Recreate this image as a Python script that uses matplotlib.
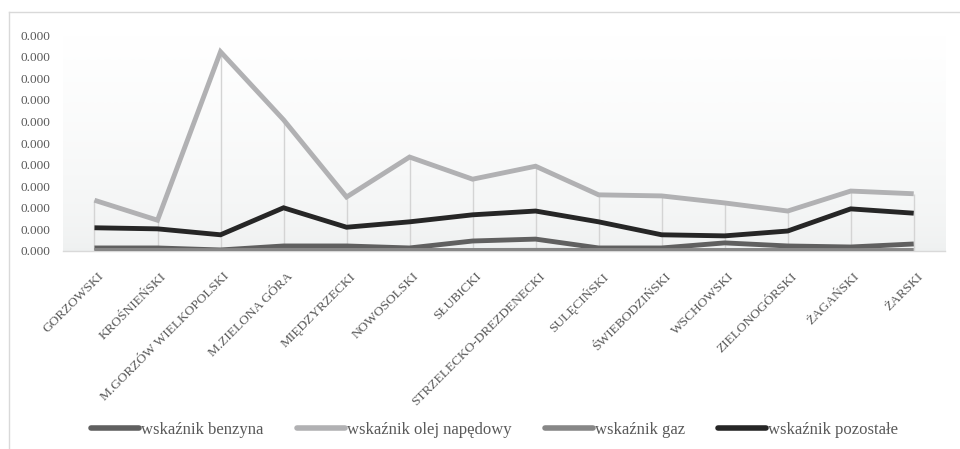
import numpy as np
import matplotlib
matplotlib.use("Agg")
import matplotlib.pyplot as plt
from matplotlib.lines import Line2D
from matplotlib.ticker import MultipleLocator, FormatStrFormatter
from matplotlib.transforms import ScaledTranslation

plt.rcParams["font.family"] = ["Liberation Serif", "DejaVu Serif"]

powiaty = ["GORZOWSKI", "KROŚNIEŃSKI", "M.GORZÓW WIELKOPOLSKI", "M.ZIELONA GÓRA",
           "MIĘDZYRZECKI", "NOWOSOLSKI", "SŁUBICKI", "STRZELECKO-DREZDENECKI",
           "SULĘCIŃSKI", "ŚWIEBODZIŃSKI", "WSCHOWSKI", "ZIELONOGÓRSKI",
           "ŻAGAŃSKI", "ŻARSKI"]

benzyna = [0.56e-5, 0.56e-5, 0.19e-5, 0.93e-5, 0.93e-5, 0.56e-5, 1.85e-5,
           2.2e-5, 0.56e-5, 0.56e-5, 1.5e-5, 0.93e-5, 0.74e-5, 1.3e-5]
olej = [9.4e-5, 5.7e-5, 36.9e-5, 24.3e-5, 10.0e-5, 17.4e-5, 13.3e-5,
        15.7e-5, 10.4e-5, 10.2e-5, 8.9e-5, 7.4e-5, 11.1e-5, 10.6e-5]
gaz = [0.1e-5, 0.1e-5, 0.08e-5, 0.12e-5, 0.1e-5, 0.1e-5, 0.1e-5,
       0.12e-5, 0.1e-5, 0.08e-5, 0.1e-5, 0.1e-5, 0.08e-5, 0.1e-5]
pozostale = [4.3e-5, 4.1e-5, 3.0e-5, 8.0e-5, 4.4e-5, 5.4e-5, 6.7e-5,
             7.4e-5, 5.4e-5, 3.0e-5, 2.8e-5, 3.7e-5, 7.8e-5, 7.0e-5]

serie = [
    ("wskaźnik benzyna", benzyna, "#606060"),
    ("wskaźnik olej napędowy", olej, "#b1b1b3"),
    ("wskaźnik gaz", gaz, "#878787"),
    ("wskaźnik pozostałe", pozostale, "#262626"),
]

txt = "#595959"
fig = plt.figure(figsize=(9.6, 4.49), dpi=100)
ax = fig.add_axes([0.0656, 0.441, 0.919, 0.481])

x = np.arange(len(powiaty))
ymax = 0.0004
ax.set_xlim(-0.5, len(powiaty) - 0.5)
ax.set_ylim(0, ymax)

# plot area: soft vertical gradient, white at the top
grad = np.linspace(0, 1, 256).reshape(-1, 1) ** 0.6
ax.imshow(grad, extent=[-0.5, len(powiaty) - 0.5, 0, ymax], aspect="auto",
          cmap=matplotlib.colors.LinearSegmentedColormap.from_list("g", ["#eef0f0", "#ffffff"]),
          origin="lower", zorder=0)

# drop lines from the highest point of each category
top = np.max([benzyna, olej, gaz, pozostale], axis=0)
ax.vlines(x, 0, top, color="#d4d4d4", lw=1.0, zorder=1)

for nazwa, vals, kolor in serie:
    ax.plot(x, vals, color=kolor, lw=3.5, label=nazwa, zorder=3,
            solid_joinstyle="miter", solid_capstyle="butt")

for s in ["top", "right", "left"]:
    ax.spines[s].set_visible(False)
ax.spines["bottom"].set_color("#d9d9d9")
ax.spines["bottom"].set_linewidth(1.0)

ax.yaxis.set_major_locator(MultipleLocator(0.00004))
ax.yaxis.set_major_formatter(FormatStrFormatter("%.3f"))
ax.tick_params(axis="y", length=0, pad=9, labelsize=9.5, labelcolor=txt)
ax.set_xticks(x)
ax.set_xticklabels(powiaty, rotation=45, ha="right", rotation_mode="anchor")
ax.tick_params(axis="x", length=0, pad=14, labelsize=9.6, labelcolor=txt)
shift = ScaledTranslation(3 / 100, 0, fig.dpi_scale_trans)
for lab in ax.get_xticklabels():
    lab.set_transform(lab.get_transform() + shift)

handles = [Line2D([], [], color=k, lw=4, solid_capstyle="round") for _, _, k in serie]
fig.legend(handles, [s[0] for s in serie], loc="center", bbox_to_anchor=(0.515, 0.042),
           ncol=4, frameon=False, fontsize=12, labelcolor=txt, handlelength=2.9,
           handletextpad=0.1, columnspacing=2.0)

# chart frame (left and top edges)
fig.add_artist(Line2D([8.5 / 960, 8.5 / 960], [0, 1 - 12 / 449], color="#d9d9d9", lw=1.0))
fig.add_artist(Line2D([8.5 / 960, 1], [1 - 12 / 449, 1 - 12 / 449], color="#d9d9d9", lw=1.0))

fig.savefig("out.png", dpi=100, facecolor="white")
